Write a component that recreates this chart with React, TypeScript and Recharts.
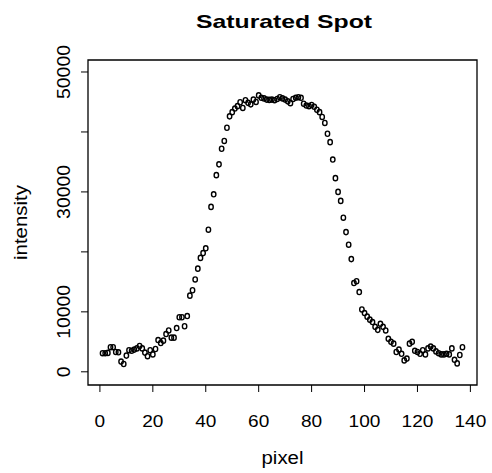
import React from 'react';
import { ScatterChart, Scatter, XAxis, YAxis, ReferenceArea } from 'recharts';

// pixel index along the scan line
const pixel = [
  1, 2, 3, 4, 5, 6, 7, 8, 9, 10, 11, 12, 13, 14, 15, 16, 17, 18, 19, 20,
  21, 22, 23, 24, 25, 26, 27, 28, 29, 30, 31, 32, 33, 34, 35, 36, 37, 38, 39, 40,
  41, 42, 43, 44, 45, 46, 47, 48, 49, 50, 51, 52, 53, 54, 55, 56, 57, 58, 59, 60,
  61, 62, 63, 64, 65, 66, 67, 68, 69, 70, 71, 72, 73, 74, 75, 76, 77, 78, 79, 80,
  81, 82, 83, 84, 85, 86, 87, 88, 89, 90, 91, 92, 93, 94, 95, 96, 97, 98, 99, 100,
  101, 102, 103, 104, 105, 106, 107, 108, 109, 110, 111, 112, 113, 114, 115, 116, 117, 118, 119, 120,
  121, 122, 123, 124, 125, 126, 127, 128, 129, 130, 131, 132, 133, 134, 135, 136, 137,
];

const intensity = [
  3100, 3100, 3150, 4100, 4100, 3300, 3250, 1700, 1300, 2700,
  3600, 3500, 3700, 3900, 4300, 3900, 3200, 2600, 3600, 2900,
  3800, 5300, 4800, 5200, 6300, 6900, 5700, 5700, 7300, 9100,
  9100, 7600, 9300, 12700, 13600, 15400, 17200, 19000, 19800, 20600,
  23700, 27500, 29600, 32800, 34600, 37200, 38500, 40700, 42600, 43300,
  43900, 44300, 44950, 44000, 45300, 44850, 44600, 45400, 45000, 46100,
  45700, 45600, 45400, 45350, 45400, 45300, 45500, 45800, 45600, 45400,
  45100, 44800, 45500, 45700, 45800, 45700, 44700, 44400, 44300, 44500,
  44200, 43700, 43300, 42500, 41500, 39700, 38300, 35400, 32300, 30000,
  28500, 25700, 23300, 21200, 18800, 14800, 15100, 13300, 10400, 9800,
  9200, 8700, 8300, 7500, 7000, 8000, 7500, 6900, 5500, 5000,
  4700, 3300, 3700, 3000, 1900, 2200, 4700, 5000, 3500, 3300,
  3000, 3600, 2900, 3900, 4200, 3900, 3400, 3100, 2900, 2900,
  3000, 2900, 3900, 2000, 1400, 2800, 4100,
];

const xTicks = [0, 20, 40, 60, 80, 100, 120, 140];
const yTicks = [0, 10000, 20000, 30000, 40000, 50000];
// R drops the labels that would overlap
const yLabelled = [0, 10000, 30000, 50000];

const X_DOMAIN = [-4.5, 142.5];
const Y_DOMAIN = [-2200, 52000];

const FONT = '"Liberation Sans", Arial, Helvetica, sans-serif';

const points = pixel.map((x, i) => ({ x, y: intensity[i] }));

const XTick = (props: any) => {
  const { x, y, payload } = props;
  const s = String(payload.value);
  return (
    <text
      x={x}
      y={y + 33}
      textAnchor="middle"
      fontFamily={FONT}
      fontSize={17}
      fill="#000"
      textLength={s.length * 10.6}
      lengthAdjust="spacingAndGlyphs"
    >
      {s}
    </text>
  );
};

const YTick = (props: any) => {
  const { x, y, payload } = props;
  if (!yLabelled.includes(payload.value)) return null;
  const s = String(payload.value);
  const tx = x - 9;
  return (
    <text
      x={tx}
      y={y}
      transform={`rotate(-90, ${tx}, ${y})`}
      textAnchor="middle"
      fontFamily={FONT}
      fontSize={18}
      fill="#000"
      textLength={s.length * 10.8}
      lengthAdjust="spacingAndGlyphs"
    >
      {s}
    </text>
  );
};

const OpenCircle = (props: any) => {
  const { cx, cy } = props;
  return <ellipse cx={cx} cy={cy} rx={2.2} ry={2.6} fill="none" stroke="#000" strokeWidth={1.4} />;
};

export default function App() {
  return (
    <div style={{ position: 'absolute', left: 0, top: 0, width: 492, height: 473, background: '#fff' }}>
      <ScatterChart width={492} height={473} margin={{ top: 60, right: 15, bottom: 0, left: 0 }}>
        <XAxis
          type="number"
          dataKey="x"
          domain={X_DOMAIN}
          ticks={xTicks}
          allowDataOverflow
          height={88}
          axisLine={false}
          tickLine={{ stroke: '#000', strokeWidth: 1 }}
          tickSize={7}
          tick={<XTick />}
          label={({ viewBox }: any) => (
            <text
              x={viewBox.x + viewBox.width / 2}
              y={viewBox.y + 79}
              textAnchor="middle"
              fontFamily={FONT}
              fontSize={18}
              fill="#000"
              textLength={42}
              lengthAdjust="spacingAndGlyphs"
            >
              pixel
            </text>
          )}
        />
        <YAxis
          type="number"
          dataKey="y"
          domain={Y_DOMAIN}
          ticks={yTicks}
          allowDataOverflow
          width={88}
          axisLine={false}
          tickLine={{ stroke: '#000', strokeWidth: 1 }}
          tickSize={7}
          tick={<YTick />}
          label={({ viewBox }: any) => {
            const lx = 27;
            const ly = viewBox.y + viewBox.height / 2;
            return (
              <text
                x={lx}
                y={ly}
                transform={`rotate(-90, ${lx}, ${ly})`}
                textAnchor="middle"
                fontFamily={FONT}
                fontSize={18}
                fill="#000"
                textLength={75}
                lengthAdjust="spacingAndGlyphs"
              >
                intensity
              </text>
            );
          }}
        />
        <ReferenceArea
          x1={X_DOMAIN[0]}
          x2={X_DOMAIN[1]}
          y1={Y_DOMAIN[0]}
          y2={Y_DOMAIN[1]}
          fill="none"
          stroke="#000"
          strokeWidth={1.3}
          label={({ viewBox }: any) => (
            <text
              x={viewBox.x + viewBox.width / 2 + 1.5}
              y={viewBox.y - 32.5}
              textAnchor="middle"
              fontFamily={FONT}
              fontSize={19}
              fontWeight="bold"
              fill="#000"
              textLength={176}
              lengthAdjust="spacingAndGlyphs"
            >
              Saturated Spot
            </text>
          )}
        />
        <Scatter data={points} shape={<OpenCircle />} isAnimationActive={false} />
      </ScatterChart>
    </div>
  );
}
